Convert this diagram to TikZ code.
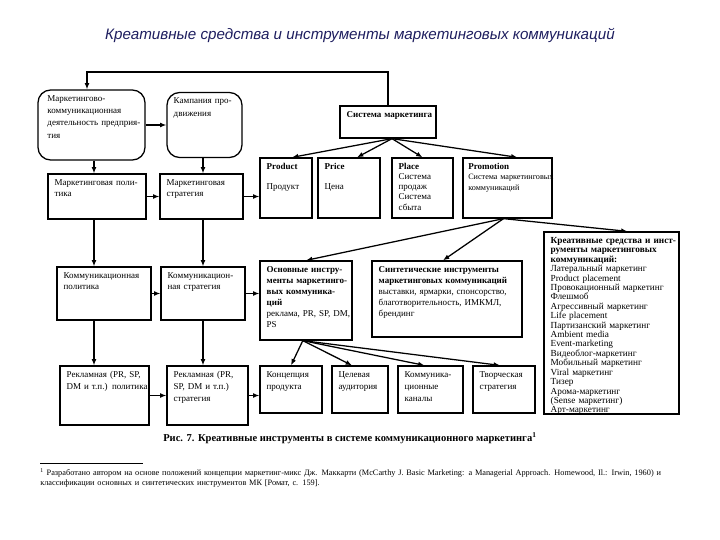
\documentclass[tikz,border=0pt]{standalone}
\usepackage{fontspec}
\setmainfont{Liberation Serif}
\newfontfamily\titlefont{Liberation Sans}
\usetikzlibrary{arrows.meta, positioning}
\definecolor{titlenavy}{RGB}{30,30,95}

\begin{document}
\begin{tikzpicture}[
    box/.style={shape=rectangle, draw, line width=0.9pt, inner sep=0pt},
    rbox/.style={box, rounded corners=9pt},
    txt/.style={anchor=north west, align=left, inner xsep=5pt, inner ysep=4pt, font=\fontsize{6.4}{8}\selectfont},
    arr/.style={line width=0.9pt, -{Latex[length=4.5pt, width=3.5pt]}}]
    \useasboundingbox (0,0) rectangle (18,13.5);
    % Title:
    \node[font=\titlefont\itshape\fontsize{10.8}{13}\selectfont, text=titlenavy] (title) at (9,12.625) {Креативные средства и инструменты маркетинговых коммуникаций};

    % Left columns:
    \node[rbox, minimum width=2.675cm, minimum height=1.75cm] (mkd) at (2.2875,10.375){};
    \node[txt, text width=2.4cm, font=\fontsize{6.4}{8.8}\selectfont, xshift=2pt] (mkdt) at (mkd.north west){Маркетингово-\\коммуникационная\\деятельность предприя-\\тия};
    \node[rbox, minimum width=1.875cm, minimum height=1.625cm] (kmp) at (5.1125,10.375){};
    \node[txt, text width=1.7cm, font=\fontsize{6.4}{8.8}\selectfont] (kmpt) at (kmp.north west){Кампания про-\\движения};
    \node[box, minimum width=2.45cm, minimum height=1.125cm] (mpol) at (2.425,8.5875){};
    \node[txt, text width=2.2cm] (mpolt) at (mpol.north west){Маркетинговая поли-\\тика};
    \node[box, minimum width=2.075cm, minimum height=1.125cm] (mstr) at (5.0375,8.5875){};
    \node[txt, text width=1.9cm] (mstrt) at (mstr.north west){Маркетинговая\\стратегия};
    \node[box, minimum width=2.35cm, minimum height=1.325cm] (kpol) at (2.6,6.1625){};
    \node[txt, text width=2.2cm] (kpolt) at (kpol.north west){Коммуникационная\\политика};
    \node[box, minimum width=2.1cm, minimum height=1.325cm] (kstr) at (5.075,6.1625){};
    \node[txt, text width=1.9cm] (kstrt) at (kstr.north west){Коммуникацион-\\ная стратегия};
    \node[box, minimum width=2.225cm, minimum height=1.475cm] (rpol) at (2.6125,3.6125){};
    \node[txt, text width=2.1cm, font=\fontsize{6.4}{8.6}\selectfont] (rpolt) at (rpol.north west){Рекламная (PR, SP,\\DM и т.п.) политика};
    \node[box, minimum width=2.025cm, minimum height=1.475cm] (rstr) at (5.1875,3.6125){};
    \node[txt, text width=1.9cm, font=\fontsize{6.4}{8.6}\selectfont] (rstrt) at (rstr.north west){Рекламная (PR,\\SP, DM и т.п.)\\стратегия};

    % Marketing system and 4P:
    \node[box, minimum width=2.4cm, minimum height=0.8cm] (sysm) at (9.7,10.45){};
    \node[txt, text width=2.2cm] (sysmt) at (sysm.north west){\bfseries Система маркетинга};
    \node[box, minimum width=1.3cm, minimum height=1.5cm] (prod) at (7.15,8.8){};
    \node[txt, text width=1.1cm, font=\fontsize{6.4}{7.4}\selectfont] (prodt) at (prod.north west){{\bfseries Product}\\[7pt]Продукт};
    \node[box, minimum width=1.55cm, minimum height=1.5cm] (price) at (8.725,8.8){};
    \node[txt, text width=1.35cm, font=\fontsize{6.4}{7.4}\selectfont] (pricet) at (price.north west){{\bfseries Price}\\[7pt]Цена};
    \node[box, minimum width=1.525cm, minimum height=1.5cm] (place) at (10.5625,8.8){};
    \node[txt, text width=1.35cm, font=\fontsize{6.4}{7.2}\selectfont] (placet) at (place.north west){{\bfseries Place}\\Система\\продаж\\Система\\сбыта};
    \node[box, minimum width=2.225cm, minimum height=1.5cm] (prom) at (12.6875,8.8){};
    \node[txt, text width=2.2cm, inner xsep=4pt, font=\fontsize{5.8}{7.4}\selectfont] (promt) at (prom.north west){{\bfseries\fontsize{6.4}{7.4}\selectfont Promotion}\\Система~маркетинговых\\коммуникаций};

    % Instruments:
    \node[box, minimum width=2.3cm, minimum height=1.975cm] (osn) at (7.65,5.9875){};
    \node[txt, text width=2.1cm, font=\fontsize{6.4}{7.8}\selectfont] (osnt) at (osn.north west){{\bfseries Основные инстру-\\менты маркетинго-\\вых коммуника-\\ций}\\реклама, PR, SP, DM,\\PS};
    \node[box, minimum width=3.75cm, minimum height=1.9cm] (sint) at (11.175,6.025){};
    \node[txt, text width=3.55cm, font=\fontsize{6.4}{7.8}\selectfont] (sintt) at (sint.north west){{\bfseries Синтетические инструменты\\маркетинговых коммуникаций}\\выставки, ярмарки, спонсорство,\\благотворительность, ИМКМЛ,\\брендинг};
    \node[box, minimum width=3.375cm, minimum height=4.55cm] (kreat) at (15.2875,5.425){};
    \node[txt, text width=3.2cm, font=\fontsize{6.6}{6.7}\selectfont] (kreatt) at (kreat.north west){{\bfseries Креативные средства и инст-\\рументы маркетинговых\\коммуникаций:}\\Латеральный маркетинг\\Product placement\\Провокационный маркетинг\\Флешмоб\\Агрессивный маркетинг\\Life placement\\Партизанский маркетинг\\Ambient media\\Event-marketing\\Видеоблог-маркетинг\\Мобильный маркетинг\\Viral маркетинг\\Тизер\\Арома-маркетинг\\(Sense маркетинг)\\Арт-маркетинг};

    % Bottom row:
    \node[box, minimum width=1.55cm, minimum height=1.175cm] (kons) at (7.275,3.7625){};
    \node[txt, text width=1.4cm, font=\fontsize{6.4}{8.8}\selectfont] (konst) at (kons.north west){Концепция\\продукта};
    \node[box, minimum width=1.4cm, minimum height=1.175cm] (cel) at (9.0,3.7625){};
    \node[txt, text width=1.25cm, font=\fontsize{6.4}{8.8}\selectfont] (celt) at (cel.north west){Целевая\\аудитория};
    \node[box, minimum width=1.625cm, minimum height=1.175cm] (kan) at (10.7625,3.7625){};
    \node[txt, text width=1.45cm, font=\fontsize{6.4}{8.8}\selectfont] (kant) at (kan.north west){Коммуника-\\ционные\\каналы};
    \node[box, minimum width=1.55cm, minimum height=1.175cm] (tvor) at (12.6,3.7625){};
    \node[txt, text width=1.4cm, font=\fontsize{6.4}{8.8}\selectfont] (tvort) at (tvor.north west){Творческая\\стратегия};

    % Wires:
    \coordinate (c1) at (2.35,0);
    \coordinate (c2) at (5.075,0);
    \coordinate (top) at (2.175,11.7);
    \draw[arr] (sysm.north) |- (top) -- (mkd.north -| top);
    \draw[arr] (mkd.east) -- (kmp.west);
    \draw[arr] (mpol.east) -- (mstr.west);
    \draw[arr] (kpol.east) -- (kstr.west);
    \draw[arr] (rpol.east) -- (rstr.west);
    \draw[arr] (mkd.south -| c1) -- (mpol.north -| c1);
    \draw[arr] (mpol.south -| c1) -- (kpol.north -| c1);
    \draw[arr] (kpol.south -| c1) -- (rpol.north -| c1);
    \draw[arr] (kmp.south -| c2) -- (mstr.north -| c2);
    \draw[arr] (mstr.south -| c2) -- (kstr.north -| c2);
    \draw[arr] (kstr.south -| c2) -- (rstr.north -| c2);
    \draw[arr] (mstr.east) -- (mstr.east -| prod.west);
    \draw[arr] (kstr.east) -- (kstr.east -| osn.west);
    \draw[arr] (rstr.east) -- (rstr.east -| kons.west);
    \draw[arr] ([xshift=0.1cm]sysm.south) -- ([xshift=0.15cm]prod.north);
    \draw[arr] ([xshift=0.1cm]sysm.south) -- ([xshift=0.2cm]price.north);
    \draw[arr] ([xshift=0.1cm]sysm.south) -- (place.north);
    \draw[arr] ([xshift=0.1cm]sysm.south) -- ([xshift=0.25cm]prom.north);
    \draw[arr] ([xshift=-0.1cm]prom.south) -- (osn.north);
    \draw[arr] ([xshift=-0.1cm]prom.south) -- ([xshift=-0.1cm]sint.north);
    \draw[arr] ([xshift=-0.1cm]prom.south) -- ([xshift=0.4cm]kreat.north);
    \draw[arr] ([xshift=-0.08cm]osn.south) -- (kons.north);
    \draw[arr] ([xshift=-0.08cm]osn.south) -- ([xshift=-0.2cm]cel.north);
    \draw[arr] ([xshift=-0.08cm]osn.south) -- ([xshift=-0.15cm]kan.north);
    \draw[arr] ([xshift=-0.08cm]osn.south) -- ([xshift=-0.1cm]tvor.north);

    % Caption and footnote:
    \node[font=\bfseries\fontsize{7.5}{9}\selectfont] (capt) at (8.75,2.55){Рис. 7. Креативные инструменты в системе коммуникационного маркетинга\textsuperscript{1}};
    \draw[line width=0.4pt] (1.0,1.925) -- (3.575,1.925);
    \node[anchor=north west, align=left, inner sep=0pt, text width=16.3cm, font=\fontsize{5.9}{7.2}\selectfont] (fn) at (1.0,1.8){\textsuperscript{1} Разработано автором на основе положений концепции маркетинг-микс Дж. Маккарти (McCarthy J. Basic Marketing: a Managerial Approach. Homewood, Il.: Irwin, 1960) и\\классификации основных и синтетических инструментов МК [Ромат, с. 159].};
\end{tikzpicture}
\end{document}
